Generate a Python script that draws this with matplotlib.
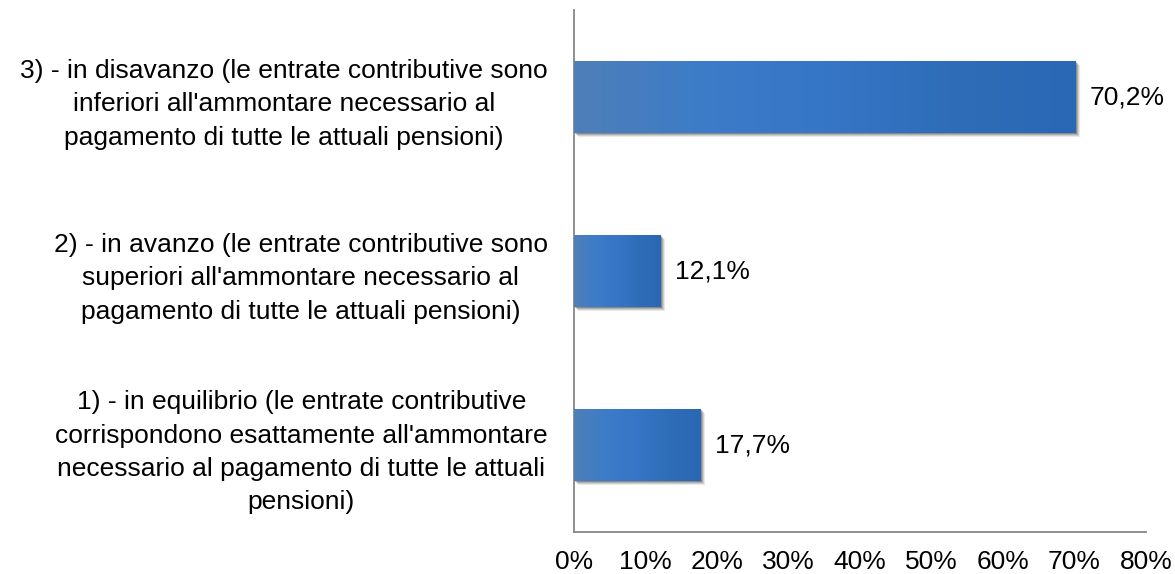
import numpy as np
import matplotlib
matplotlib.use("Agg")
import matplotlib.pyplot as plt
import matplotlib.transforms as mtransforms
from matplotlib.colors import LinearSegmentedColormap
from matplotlib.patches import Rectangle

categories = [
    "1) - in equilibrio (le entrate contributive\ncorrispondono esattamente all'ammontare\nnecessario al pagamento di tutte le attuali\npensioni)",
    "2) - in avanzo (le entrate contributive sono\nsuperiori all'ammontare necessario al\npagamento di tutte le attuali pensioni)",
    "3) - in disavanzo (le entrate contributive sono\ninferiori all'ammontare necessario al\npagamento di tutte le attuali pensioni)",
]
values = [17.7, 12.1, 70.2]
value_labels = ["17,7%", "12,1%", "70,2%"]
xticks = [0, 10, 20, 30, 40, 50, 60, 70, 80]
xtick_labels = ["0%", "10%", "20%", "30%", "40%", "50%", "60%", "70%", "80%"]

plt.rcParams['font.family'] = ['Liberation Sans', 'DejaVu Sans']

FS = 19

fig = plt.figure(figsize=(11.75, 5.74), dpi=100)
ax = fig.add_axes([574/1175, 1 - 532/574, (1146 - 574)/1175, (532 - 10)/574])

y = np.arange(len(categories))
bars = ax.barh(y, values, height=0.41, color='none', edgecolor='none', zorder=3)

cmap = LinearSegmentedColormap.from_list(
    "bargrad", ["#4F7FB8", "#3C7CC8", "#3576C6", "#2F6DB8", "#2A68B6"])
grad = np.linspace(0, 1, 256).reshape(1, -1)

for p in bars.patches:
    x0, y0 = p.get_x(), p.get_y()
    w, h = p.get_width(), p.get_height()
    # soft shadow
    for k, a in enumerate([0.10, 0.14, 0.2, 0.28]):
        d = 4 - k
        sh = Rectangle((x0, y0), w, h, facecolor='#303030', edgecolor='none', alpha=a,
                       transform=mtransforms.offset_copy(ax.transData, fig=fig, x=d, y=-d, units='dots'),
                       zorder=2)
        ax.add_patch(sh)
    im = ax.imshow(grad, cmap=cmap, aspect='auto', extent=[x0, x0 + w, y0, y0 + h],
                   origin='lower', zorder=3, interpolation='bilinear')
    im.set_clip_path(p)

for yi, v, lab in zip(y, values, value_labels):
    ax.annotate(lab, (v, yi), xytext=(14, 0), textcoords='offset pixels',
                ha='left', va='center', fontsize=FS, color='#000000')

ax.set_xlim(0, 80)
ax.set_ylim(-0.5, 2.5)
ax.set_xticks(xticks)
ax.set_xticklabels(xtick_labels, fontsize=FS)
ax.set_yticks(y)
ax.set_yticklabels(categories, fontsize=FS)
for t in ax.get_yticklabels():
    t.set_multialignment('center')
    t.set_linespacing(1.5)
ax.tick_params(axis='both', length=0)
ax.tick_params(axis='x', pad=13)
ax.tick_params(axis='y', pad=19)
for s in ['top', 'right']:
    ax.spines[s].set_visible(False)
for s in ['left', 'bottom']:
    ax.spines[s].set_color('#868686')
    ax.spines[s].set_linewidth(1.3)

fig.savefig("out.png", dpi=100)
